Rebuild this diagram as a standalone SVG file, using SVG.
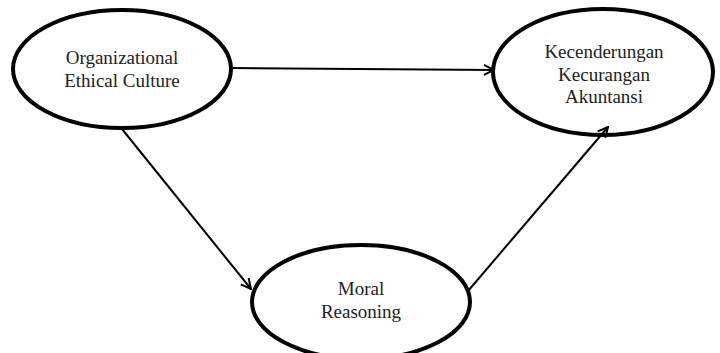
<svg xmlns="http://www.w3.org/2000/svg" width="720" height="353" viewBox="0 0 720 353">
<defs>
<style>
.node ellipse{fill:#fff;stroke:#000;stroke-width:4}
.node text{font-family:"Liberation Serif","Times New Roman",serif;font-size:19px;fill:#222;text-anchor:middle}
.edge{stroke:#000;stroke-width:2;fill:none;marker-end:url(#arr)}
</style>
<marker id="arr" viewBox="0 0 12 12" refX="11" refY="6" markerWidth="12" markerHeight="12" markerUnits="userSpaceOnUse" orient="auto">
<path d="M1,1 L11,6 L1,11" fill="none" stroke="#000" stroke-width="2"/>
</marker>
</defs>
<rect width="720" height="353" fill="#fff"/>
<g id="oec" class="node">
<ellipse cx="122" cy="69" rx="109" ry="59"/>
<text x="122" y="64">Organizational</text>
<text x="122" y="87">Ethical Culture</text>
</g>
<g id="kka" class="node">
<ellipse cx="603" cy="72" rx="110" ry="63"/>
<text x="604" y="58">Kecenderungan</text>
<text x="604" y="81">Kecurangan</text>
<text x="604" y="103">Akuntansi</text>
</g>
<g id="mr" class="node">
<ellipse cx="361" cy="302" rx="109" ry="57"/>
<text x="361" y="295">Moral</text>
<text x="361" y="318">Reasoning</text>
</g>
<g id="connectors">
<line class="edge" x1="233" y1="68" x2="494" y2="70"/>
<line class="edge" x1="122" y1="129" x2="251" y2="289"/>
<line class="edge" x1="468" y1="291" x2="608" y2="127"/>
</g>
</svg>
